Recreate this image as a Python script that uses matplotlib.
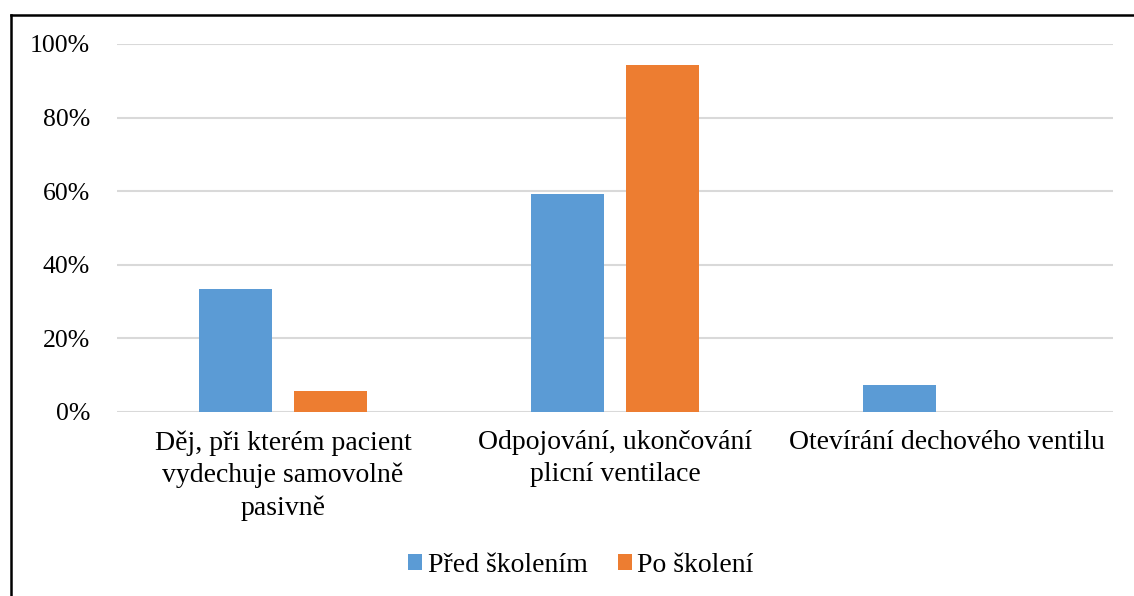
import matplotlib
matplotlib.use("Agg")
import matplotlib.pyplot as plt
from matplotlib.patches import Patch
from matplotlib.lines import Line2D
from matplotlib.ticker import PercentFormatter

plt.rcParams['font.family'] = ['Liberation Serif', 'DejaVu Serif']

categories = ["Děj, při kterém pacient\nvydechuje samovolně\npasivně",
              "Odpojování, ukončování\nplicní ventilace",
              "Otevírání dechového ventilu"]
series_names = ["Před školením", "Po školení"]
pred = [0.333, 0.593, 0.074]
po = [0.056, 0.944, 0.0]
yticks = [0, 0.2, 0.4, 0.6, 0.8, 1.0]

colors = ["#5B9BD5", "#ED7D31"]

fig = plt.figure(figsize=(11.34, 5.96), dpi=100)
ax = fig.add_axes([117/1134, 1-412/596, (1113-117)/1134, (412-44)/596])

x = list(range(len(categories)))
w = 0.22
off = 0.143
ax.bar([i - off for i in x], pred, width=w, color=colors[0], zorder=3)
ax.bar([i + off for i in x], po, width=w, color=colors[1], zorder=3)

ax.set_xlim(-0.5, len(categories) - 0.5)
ax.set_ylim(0, 1.0)
ax.set_yticks(yticks)
ax.yaxis.set_major_formatter(PercentFormatter(1.0, decimals=0))
ax.grid(axis='y', color='#D9D9D9', linewidth=1.5, zorder=0)
ax.set_axisbelow(True)
for s in ax.spines.values():
    s.set_visible(False)
ax.tick_params(axis='both', length=0, colors='black')
ax.tick_params(axis='y', pad=19.5, labelsize=18.5)
ax.tick_params(axis='x', pad=13, labelsize=20)
ax.set_xticks(x)
ax.set_xticklabels(categories, linespacing=1.38, va='top')

handles = [Patch(facecolor=colors[0]), Patch(facecolor=colors[1])]
fig.legend(handles, series_names, loc='center', bbox_to_anchor=(581/1134, 1-565/596),
           ncol=2, frameon=False, fontsize=20, handlelength=0.5, handleheight=0.5,
           handletextpad=0.2, columnspacing=1.1, borderpad=0, borderaxespad=0)

# outer frame (left and top visible)
fig.add_artist(Line2D([11/1134, 11/1134], [0, 1-15/596], transform=fig.transFigure,
                      color='black', linewidth=1.8))
fig.add_artist(Line2D([11/1134, 1], [1-15/596, 1-15/596], transform=fig.transFigure,
                      color='black', linewidth=1.8))

fig.savefig("out.png", dpi=100)
